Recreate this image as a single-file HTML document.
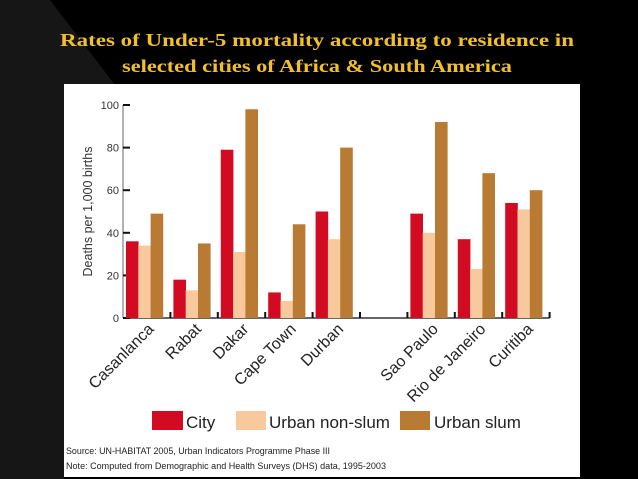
<!DOCTYPE html>
<html><head><meta charset="utf-8"><style>
html,body{margin:0;padding:0;background:#000;width:638px;height:479px;overflow:hidden}
svg text{font-family:"Liberation Sans",sans-serif}
</style></head><body>
<svg id="chart" width="638" height="479" viewBox="0 0 638 479">
<polygon points="0,0 50,0 115,85 64,85 64,479 0,479" fill="#161616"/>
<text x="317" y="46" text-anchor="middle" fill="#f2c02a" font-size="18" font-weight="bold" style="font-family:'Liberation Serif',serif" textLength="514" lengthAdjust="spacingAndGlyphs">Rates of Under-5 mortality according to residence in</text>
<text x="317" y="72" text-anchor="middle" fill="#f2c02a" font-size="18" font-weight="bold" style="font-family:'Liberation Serif',serif" textLength="390" lengthAdjust="spacingAndGlyphs">selected cities of  Africa &amp; South America</text>
<rect x="64" y="84" width="516" height="393" fill="#fff"/>
<g id="plot"></g>
<rect x="152" y="411" width="31" height="19" fill="#d20a22"/>
<text x="186" y="428" font-size="17" fill="#222">City</text>
<rect x="236" y="411" width="30" height="19" fill="#f8c99c"/>
<text x="269" y="428" font-size="17" fill="#222">Urban non-slum</text>
<rect x="400" y="411" width="30" height="19" fill="#b97a33"/>
<text x="434" y="428" font-size="17" fill="#222">Urban slum</text>
<text x="66" y="454" font-size="9.5" fill="#222" textLength="264" lengthAdjust="spacingAndGlyphs">Source: UN-HABITAT 2005, Urban Indicators Programme Phase III</text>
<text x="66" y="469" font-size="9.5" fill="#222" textLength="320" lengthAdjust="spacingAndGlyphs">Note: Computed from Demographic and Health Surveys (DHS) data, 1995-2003</text>
</svg>
<script>
const categories = ["Casanlanca","Rabat","Dakar","Cape Town","Durban","","Sao Paulo","Rio de Janeiro","Curitiba"];
const cityValues = [36,18,79,12,50,null,49,37,54];
const nonSlumValues = [34,13,31,8,37,null,40,23,51];
const slumValues = [49,35,98,44,80,null,92,68,60];
const yTicks = [0,20,40,60,80,100];
const NS="http://www.w3.org/2000/svg";
const g=document.getElementById('plot');
const x0=123, slot=47.4, y0=318, pxPer=2.13;
const yScale=v=>y0-v*pxPer;
const xSlot=i=>x0+i*slot;
function mk(t,a){const e=document.createElementNS(NS,t);for(const k in a)e.setAttribute(k,a[k]);g.appendChild(e);return e;}
// axes
let ax=mk('line',{x1:x0,y1:y0,x2:xSlot(categories.length),y2:y0,stroke:'#333','stroke-width':1.5});


let ay=mk('line',{x1:x0,y1:y0,x2:x0,y2:yScale(100),stroke:'#999','stroke-width':1.5});


yTicks.forEach(v=>{
  let t=mk('line',{x1:x0,y1:yScale(v),x2:x0+7,y2:yScale(v),stroke:'#111','stroke-width':2});
  
  
  let l=mk('text',{x:x0-4,y:yScale(v)+4,'text-anchor':'end','font-size':11,fill:'#333'});
  l.textContent=v;
  
  
});
let yt=mk('text',{x:0,y:0,'font-size':12.5,fill:'#333','text-anchor':'middle',transform:`translate(92,${yScale(50)}) rotate(-90)`});
yt.textContent='Deaths per 1,000 births';


for(let i=1;i<=categories.length;i++){
  let t=mk('line',{x1:xSlot(i),y1:y0,x2:xSlot(i),y2:y0-6,stroke:'#111','stroke-width':2});
  
  
}
const series=[[cityValues,'#d20a22','city'],[nonSlumValues,'#f8c99c','urban-non-slum'],[slumValues,'#b97a33','urban-slum']];
const bw=12.3;
categories.forEach((c,i)=>{
  series.forEach(([vals,col,nm],j)=>{
    const v=vals[i]; if(v==null) return;
    let r=mk('rect',{x:xSlot(i)+3+j*bw,y:yScale(v),width:bw+0.3,height:v*pxPer,fill:col});
    
    
  });
  if(c){
    const cx=xSlot(i)+slot/2+8;
    let l=mk('text',{x:0,y:0,'font-size':16,fill:'#222','text-anchor':'end',transform:`translate(${cx},${y0+12}) rotate(-45)`});
    l.textContent=c;
    
    
  }
});
</script>
</body></html>
